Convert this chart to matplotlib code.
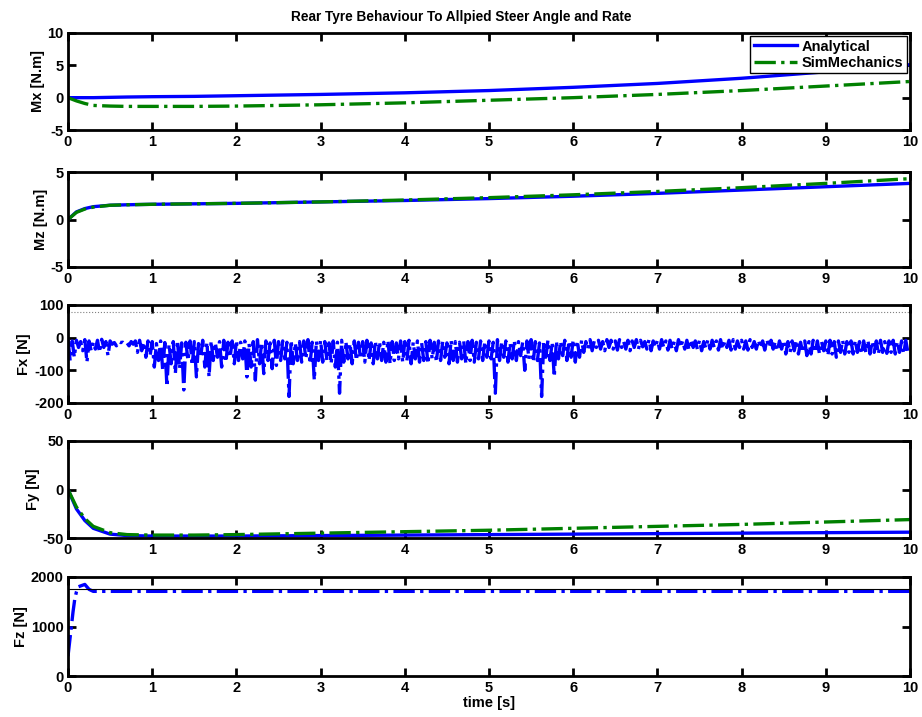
import matplotlib
matplotlib.use("Agg")
import matplotlib.pyplot as plt
import numpy as np

plt.rcParams['font.family'] = ['Liberation Sans', 'DejaVu Sans']
plt.rcParams['font.weight'] = 'bold'
plt.rcParams['axes.unicode_minus'] = False

# ---------------- data ----------------
t_smooth = [0.0, 0.1, 0.2, 0.3, 0.5, 0.7, 1.0, 1.5, 2.0, 3.0, 4.0, 5.0, 6.0, 7.0, 8.0, 9.0, 10.0]

mx_analytical = [0.0, 0.0, 0.0, 0.0, 0.05, 0.1, 0.15, 0.2, 0.3, 0.5, 0.75, 1.1, 1.6, 2.2, 3.0, 4.0, 5.1]
mx_simmech = [0.0, -0.5, -0.9, -1.2, -1.3, -1.35, -1.35, -1.35, -1.3, -1.1, -0.8, -0.4, 0.0, 0.5, 1.1, 1.8, 2.5]

mz_analytical = [0.0, 0.8, 1.15, 1.35, 1.5, 1.55, 1.6, 1.65, 1.7, 1.85, 2.0, 2.2, 2.45, 2.75, 3.1, 3.45, 3.8]
mz_simmech = [0.0, 0.75, 1.1, 1.3, 1.5, 1.55, 1.6, 1.65, 1.7, 1.85, 2.05, 2.3, 2.6, 2.95, 3.35, 3.8, 4.3]

fy_analytical = [0.0, -20.0, -32.0, -40.0, -46.0, -47.5, -48.0, -48.0, -48.0, -47.5, -47.0, -46.5, -46.0, -45.5, -45.0, -44.5, -44.0]
fy_simmech = [0.0, -18.0, -30.0, -38.0, -44.5, -46.5, -47.0, -47.0, -46.5, -45.0, -43.5, -42.0, -40.0, -38.0, -36.0, -33.5, -31.0]

t_fz = [0.0, 0.02, 0.04, 0.06, 0.08, 0.1, 0.12, 0.15, 0.2, 0.25, 0.3, 0.4, 1.0, 3.0, 5.0, 7.0, 9.0, 10.0]
fz_analytical = [400, 700, 1000, 1300, 1550, 1700, 1800, 1820, 1850, 1750, 1710, 1710, 1710, 1710, 1710, 1710, 1710, 1710]
fz_reference = [1755, 1755]
fx_reference = [80, 80]
t_edges = [0.0, 10.0]

# Fx: sample bottoms (every 0.05 s) and tops
fx_bottoms = [
    -70, -60, -30, -40, -75, -40, -35, -45, -30, -55, -20, -25, -15, -20, -25, -20, -45, -40, -60, -55,
    -90, -70, -100, -150, -80, -110, -95, -160, -70, -85, -120, -60, -90, -120, -70, -60, -90, -75, -60, -80,
    -70, -65, -120, -90, -130, -80, -110, -70, -95, -85, -70, -65, -180, -80, -70, -75, -65, -80, -130, -70,
    -75, -70, -80, -90, -170, -75, -65, -80, -70, -65, -75, -70, -80, -65, -70, -75, -80, -70, -65, -75,
    -70, -80, -65, -75, -70, -80, -65, -75, -70, -60, -80, -70, -75, -65, -80, -70, -75, -65, -70, -60,
    -65, -170, -70, -60, -75, -65, -70, -55, -100, -65, -75, -70, -180, -60, -70, -120, -65, -55, -70, -60,
    -75, -60, -45, -35, -40, -30, -35, -40, -30, -35, -38, -30, -35, -40, -30, -35, -28, -35, -40, -30,
    -35, -30, -38, -35, -40, -30, -35, -38, -30, -35, -40, -32, -35, -30, -38, -35, -30, -38, -35, -30,
    -35, -38, -30, -35, -32, -38, -30, -35, -40, -35, -50, -45, -40, -50, -45, -55, -50, -45, -50, -40,
    -55, -50, -60, -45, -50, -45, -50, -45, -50, -45, -50, -45, -50, -45, -48, -45, -50, -45, -50, -45,
]
fx_tops = [
    -5, -10, -8, -12, -6, -10, -14, -8, -5, -12, -10, -15, -12, -14, -16, -12, -10, -8, -14, -10,
    -12, -18, -10, -15, -20, -12, -8, -16, -14, -10, -12, -18, -8, -14, -10, -16, -12, -8, -14, -10,
    -8, -14, -10, -18, -12, -6, -14, -10, -16, -8, -12, -10, -14, -8, -16, -12, -10, -6, -14, -10,
    -8, -12, -16, -10, -14, -8, -12, -18, -10, -14, -12, -8, -16, -10, -12, -14, -8, -12, -16, -10,
    -12, -8, -14, -10, -16, -12, -8, -14, -10, -12, -16, -8, -12, -14, -10, -12, -8, -14, -10, -12,
    -10, -14, -6, -12, -10, -16, -8, -12, -14, -10, -6, -12, -16, -10, -8, -14, -10, -12, -8, -10,
    -6, -10, -8, -12, -6, -10, -8, -12, -6, -8, -10, -6, -12, -8, -10, -6, -8, -12, -6, -10,
    -8, -6, -10, -8, -12, -6, -10, -8, -6, -10, -8, -12, -6, -8, -10, -6, -12, -8, -6, -10,
    -8, -10, -6, -12, -8, -10, -6, -8, -12, -10, -8, -12, -10, -8, -14, -10, -12, -8, -10, -12,
    -10, -8, -12, -10, -8, -12, -10, -8, -12, -10, -8, -12, -10, -8, -12, -10, -8, -12, -10, -8,
]
fx_dt = 0.05

x_ticks = [0, 1, 2, 3, 4, 5, 6, 7, 8, 9, 10]

# ---------------- figure ----------------
W, H = 922, 717
fig = plt.figure(figsize=(W / 100, H / 100), dpi=100)

left, right = 68, 910
panels = [(33, 130), (172, 267), (305, 403), (441, 538), (577, 676)]

def make_ax(top, bottom):
    return fig.add_axes([left / W, 1 - bottom / H, (right - left) / W, (bottom - top) / H])

blue = '#0000ff'
green = '#008000'
lw = 2.4
FS = 10.5

axes = [make_ax(*p) for p in panels]

def style(ax, ylim, yticks, ylabel):
    ax.set_xlim(0, 10)
    ax.set_ylim(*ylim)
    ax.set_xticks(x_ticks)
    ax.set_yticks(yticks)
    ax.tick_params(direction='in', top=True, right=True, length=6, width=2,
                   labelsize=FS)
    ax.tick_params(axis='x', pad=3.5)
    ax.tick_params(axis='y', pad=3)
    for lab in ax.get_xticklabels() + ax.get_yticklabels():
        lab.set_fontweight('bold')
    for s in ax.spines.values():
        s.set_linewidth(2)
    ax.set_ylabel(ylabel, fontsize=FS, fontweight='bold', labelpad=2)

# Mx
ax = axes[0]
ax.plot(t_smooth, mx_analytical, color=blue, lw=lw, label='Analytical')
ax.plot(t_smooth, mx_simmech, color=green, lw=lw, ls='-.', label='SimMechanics')
style(ax, (-5, 10), [-5, 0, 5, 10], 'Mx [N.m]')
leg = ax.legend(loc='upper right', frameon=True, fancybox=False,
                borderpad=0.25, handlelength=3.0, handletextpad=0.3, borderaxespad=0.2,
                labelspacing=0.15, prop={'weight': 'bold', 'size': FS})
leg.get_frame().set_edgecolor('black')
leg.get_frame().set_linewidth(1.0)
leg.get_frame().set_alpha(1)
fig.text(461 / W, 1 - 17 / H, 'Rear Tyre Behaviour To Allpied Steer Angle and Rate',
         fontsize=9.8, fontweight='bold', ha='center', va='center',
         family=['Liberation Sans Narrow', 'Liberation Sans', 'DejaVu Sans'])

# Mz
ax = axes[1]
ax.plot(t_smooth, mz_analytical, color=blue, lw=lw)
ax.plot(t_smooth, mz_simmech, color=green, lw=lw, ls='-.')
style(ax, (-5, 5), [-5, 0, 5], 'Mz [N.m]')

# Fx
ax = axes[2]
fx_t = []
fx_v = []
for i, (tp, bt) in enumerate(zip(fx_tops, fx_bottoms)):
    fx_t += [i * fx_dt, i * fx_dt + fx_dt / 2]
    fx_v += [tp, bt]
ax.plot(t_edges, fx_reference, color='#808080', lw=0.8, ls=':')
ax.plot(fx_t, fx_v, color=blue, lw=lw, ls='-.')
style(ax, (-200, 100), [-200, -100, 0, 100], 'Fx [N]')

# Fy
ax = axes[3]
ax.plot(t_smooth, fy_analytical, color=blue, lw=lw)
ax.plot(t_smooth, fy_simmech, color=green, lw=lw, ls='-.')
style(ax, (-50, 50), [-50, 0, 50], 'Fy [N]')

# Fz
ax = axes[4]
ax.plot(t_fz, fz_analytical, color=blue, lw=lw, ls='-.')
ax.plot(t_edges, fz_reference, color='black', lw=0.8)
style(ax, (0, 2000), [0, 1000, 2000], 'Fz [N]')
ax.set_xlabel('time [s]', fontsize=FS, fontweight='bold', labelpad=1)

fig.savefig('out.png', dpi=100)
